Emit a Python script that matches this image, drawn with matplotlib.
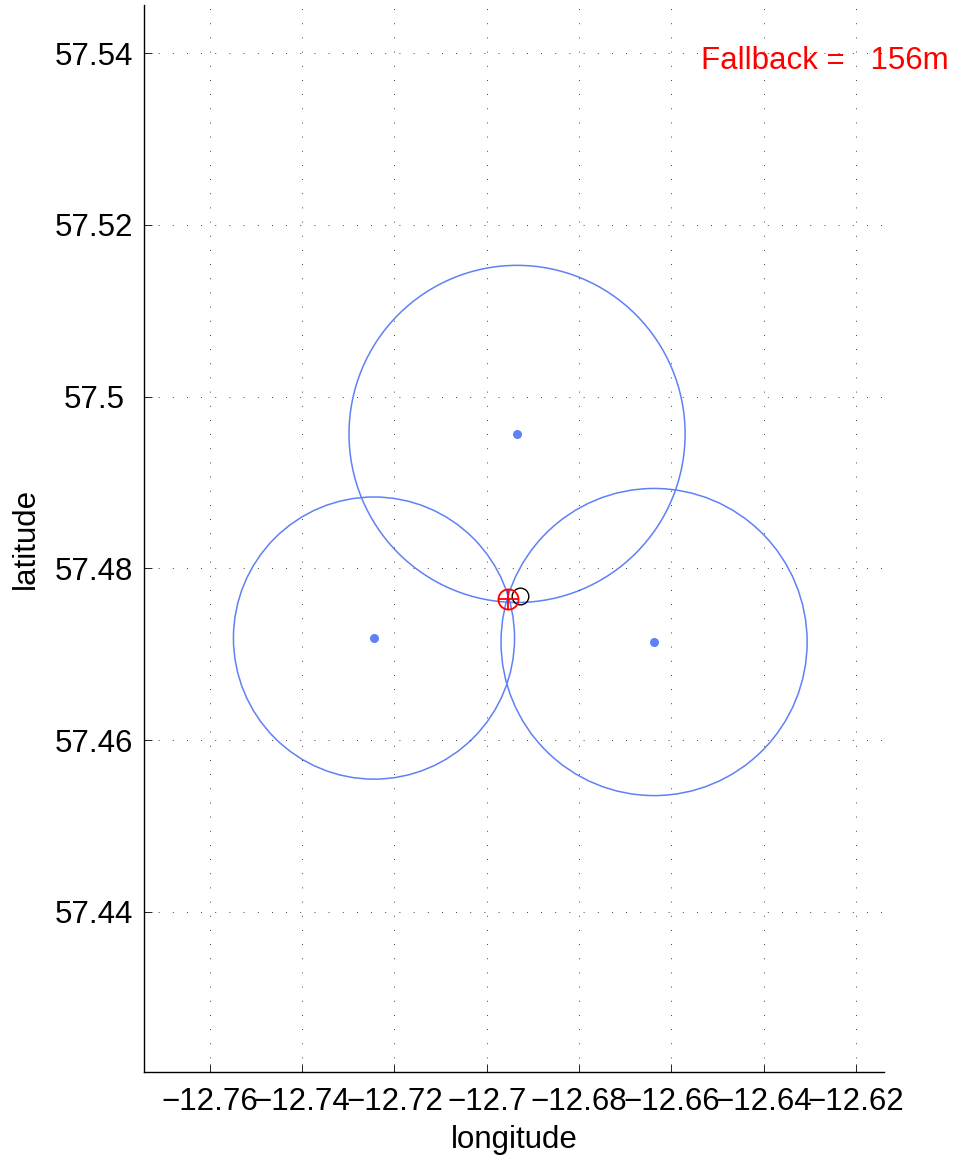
import numpy as np
import matplotlib.pyplot as plt
from matplotlib.patches import Ellipse

plt.rcParams['font.family'] = ['Liberation Sans', 'DejaVu Sans']

# 基地局の位置 (lon, lat) と円の大きさ (lon方向の幅, lat方向の高さ)
station_lon = [-12.69343, -12.72444, -12.66373]
station_lat = [57.49566, 57.47189, 57.47143]
circle_w = [0.07285, 0.06093, 0.06635]
circle_h = [0.03925, 0.03285, 0.03576]

# 推定位置 (赤) と真の位置 (黒)
est_lon, est_lat = -12.69539, 57.47644
true_lon, true_lat = -12.69289, 57.47679

x_ticks = [-12.76, -12.74, -12.72, -12.70, -12.68, -12.66, -12.64, -12.62]
x_labels = ['\u221212.76', '\u221212.74', '\u221212.72', '\u221212.7',
            '\u221212.68', '\u221212.66', '\u221212.64', '\u221212.62']
y_ticks = [57.44, 57.46, 57.48, 57.50, 57.52, 57.54]
y_labels = ['57.44', '57.46', '57.48', '57.5', '57.52', '57.54']

fallback_m = 156

blue = '#5f80f7'
fs = 22.5

fig = plt.figure(figsize=(9.54, 11.58), dpi=100)
ax = fig.add_axes([0.1509, 0.0745, 0.7757, 0.9212])

for lon, lat, w, h in zip(station_lon, station_lat, circle_w, circle_h):
    ax.add_patch(Ellipse((lon, lat), w, h, fill=False, edgecolor=blue, linewidth=1.1))
ax.plot(station_lon, station_lat, 'o', color=blue, markersize=6.5, markeredgewidth=0)

ax.plot(true_lon, true_lat, 'o', markerfacecolor='none', markeredgecolor='black',
        markersize=12, markeredgewidth=1.0)
ax.plot(est_lon, est_lat, 'o', markerfacecolor='none', markeredgecolor='red',
        markersize=14.5, markeredgewidth=1.3)
ax.plot(est_lon, est_lat, '+', color='red', markersize=14.5, markeredgewidth=1.3)

ax.text(-12.6536, 57.5381, 'Fallback =   %dm' % fallback_m, color='red', fontsize=fs,
        ha='left', va='baseline')

ax.set_xlim(-12.7743, -12.6139)
ax.set_ylim(57.4214, 57.5456)
ax.set_xticks(x_ticks)
ax.set_xticklabels(x_labels)
ax.set_yticks(y_ticks)
ax.set_yticklabels(y_labels, ha='center')
ax.tick_params(direction='in', length=6, width=0.6, labelsize=fs)
ax.tick_params(axis='y', pad=36)
ax.tick_params(axis='x', pad=11)
ax.grid(True, color='black', linestyle=(0, (1, 16)), linewidth=0.6)

ax.spines['top'].set_visible(False)
ax.spines['right'].set_visible(False)
ax.spines['left'].set_linewidth(1.0)
ax.spines['bottom'].set_linewidth(1.0)

ax.set_xlabel('longitude', fontsize=fs, labelpad=6)
ax.set_ylabel('latitude', fontsize=fs, labelpad=10)

fig.savefig('out.png', dpi=100)
